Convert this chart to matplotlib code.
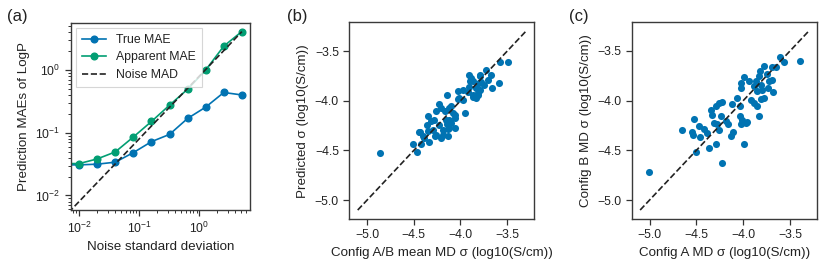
import matplotlib
matplotlib.use("Agg")
import matplotlib.pyplot as plt
import numpy as np

plt.rcParams['font.family'] = ['Liberation Sans', 'DejaVu Sans']
plt.rcParams['font.size'] = 9.6
plt.rcParams['axes.edgecolor'] = '#3a3a3a'
plt.rcParams['axes.linewidth'] = 1.0
plt.rcParams['xtick.color'] = '#333333'
plt.rcParams['ytick.color'] = '#333333'
plt.rcParams['xtick.labelcolor'] = '#222222'
plt.rcParams['ytick.labelcolor'] = '#222222'
plt.rcParams['text.color'] = '#222222'
plt.rcParams['axes.labelcolor'] = '#222222'

BLUE = '#0173b2'
GREEN = '#029e73'
LABEL_FS = 9.6
TICK_FS = 8.8

# ---- Panel (a) data ----
noise_sd = [0.0, 0.01, 0.02, 0.04, 0.08, 0.16, 0.32, 0.64, 1.28, 2.56, 5.12]
true_mae = [0.0300, 0.0307, 0.0315, 0.0339, 0.0482, 0.072, 0.094, 0.169, 0.256, 0.438, 0.400]
apparent_mae = [0.0310, 0.0322, 0.0382, 0.0494, 0.0855, 0.151, 0.275, 0.494, 1.00, 2.40, 4.11]
noise_mad = [0.0, 0.0080, 0.0160, 0.0319, 0.0638, 0.128, 0.255, 0.511, 1.02, 2.04, 4.09]

# ---- Panel (b) data ----
b_x = [-4.861, -4.468, -4.511, -4.422, -4.339, -4.439, -4.404, -4.350, -4.361, -4.350,
       -4.279, -4.297, -4.261, -4.225, -4.207, -4.182, -4.136, -4.118, -4.154, -4.100,
       -4.064, -4.171, -4.125, -4.082, -4.064, -4.232, -4.146, -4.029, -4.018, -3.975,
       -3.957, -3.968, -3.921, -3.904, -3.886, -3.861, -3.904, -3.839, -3.814, -3.796,
       -3.778, -3.796, -3.753, -3.707, -3.725, -3.671, -3.661, -3.589, -3.575, -3.493,
       -4.207, -4.261, -4.314, -4.386, -3.868, -3.832,
       -4.268, -4.189, -4.132, -4.146, -4.118, -4.061, -4.100, -4.025, -3.868, -3.814,
       -3.893, -3.786, -3.807, -4.429]
b_y = [-4.530, -4.513, -4.433, -4.433, -4.413, -4.313, -4.357, -4.307, -4.247, -4.150,
       -4.190, -4.290, -4.340, -4.240, -4.373, -4.340, -4.357, -4.273, -4.190, -4.223,
       -4.273, -4.107, -4.073, -4.123, -4.173, -4.030, -3.940, -3.900, -3.973, -3.990,
       -4.123, -3.890, -3.907, -3.857, -3.773, -3.800, -3.740, -3.967, -3.923, -3.890,
       -3.807, -3.740, -3.840, -3.790, -3.690, -3.740, -3.873, -3.823, -3.613, -3.613,
       -4.073, -4.107, -4.207, -4.373, -3.940, -3.873,
       -4.350, -4.297, -4.283, -4.230, -4.190, -4.140, -4.057, -3.983, -3.957, -3.940,
       -3.797, -3.750, -3.817, -4.310]

# ---- Panel (c) data ----
c_x = [-5.003, -4.224, -4.500, -4.367, -4.292, -3.992, -4.650, -4.546, -4.535, -4.457,
       -4.475, -4.421, -4.385, -4.528, -4.349, -4.332, -4.296, -4.260, -4.224, -4.314,
       -4.285, -4.260, -4.235, -4.189, -4.164, -4.135, -4.107, -4.117, -4.064, -4.035,
       -4.035, -4.028, -4.010, -3.974, -3.956, -4.021, -4.028, -3.992, -3.939, -3.921,
       -3.885, -3.849, -3.831, -3.849, -3.814, -3.778, -3.885, -3.867, -3.831, -3.821,
       -3.778, -3.742, -3.724, -3.688, -3.678, -3.731, -3.688, -3.653, -3.606, -3.563,
       -3.392, -3.814, -3.796]
c_y = [-4.720, -4.630, -4.517, -4.480, -4.433, -4.440, -4.293, -4.313, -4.347, -4.367,
       -4.257, -4.290, -4.323, -4.180, -4.090, -4.140, -4.057, -4.023, -4.013, -4.223,
       -4.240, -4.300, -4.157, -4.200, -4.240, -4.357, -4.313, -4.033, -3.973, -4.057,
       -4.150, -4.240, -4.190, -4.223, -4.213, -3.873, -3.823, -3.763, -3.807, -3.990,
       -4.023, -4.057, -4.157, -3.907, -3.983, -3.973, -3.857, -3.807, -3.757, -3.700,
       -3.657, -3.733, -3.807, -3.790, -3.917, -3.873, -3.660, -3.667, -3.557, -3.617,
       -3.607, -3.840, -3.890]

parity_line = [-5.1, -3.3]

W, H = 831, 269
fig = plt.figure(figsize=(W / 100, H / 100), dpi=100)

def pos(l, r, t, b):
    return [l / W, 1 - b / H, (r - l) / W, (b - t) / H]

ax1 = fig.add_axes(pos(71, 250, 23, 210))
ax2 = fig.add_axes(pos(349.3, 534.3, 22.3, 219))
ax3 = fig.add_axes(pos(631.7, 817.3, 22, 219))

# Panel (a)
ax1.set_xscale('log')
ax1.set_yscale('log')
ax1.plot(noise_sd, true_mae, '-o', color=BLUE, ms=4.8, lw=1.2, label='True MAE')
ax1.plot(noise_sd, apparent_mae, '-o', color=GREEN, ms=4.8, lw=1.2, label='Apparent MAE')
ax1.plot(noise_sd, noise_mad, '--', color='#222222', lw=1.2, label='Noise MAD')
ax1.set_xlabel('Noise standard deviation', fontsize=LABEL_FS)
ax1.set_ylabel('Prediction MAEs of LogP', fontsize=LABEL_FS)
leg = ax1.legend(loc='upper left', fontsize=TICK_FS, frameon=True, fancybox=False,
                 edgecolor='#cccccc', handlelength=2.0, borderpad=0.5,
                 labelspacing=0.45, handletextpad=0.8, borderaxespad=0.4)
leg.get_frame().set_linewidth(0.8)

for ax, xs, ys, xl, yl in [
        (ax2, b_x, b_y, 'Config A/B mean MD σ (log10(S/cm))', 'Predicted σ (log10(S/cm))'),
        (ax3, c_x, c_y, 'Config A MD σ (log10(S/cm))', 'Config B MD σ (log10(S/cm))')]:
    ax.scatter(xs, ys, s=26, color=BLUE, linewidths=0, zorder=2)
    ax.plot(parity_line, parity_line, '--', color='#222222', lw=1.2, zorder=3)
    ax.set_xticks([-5.0, -4.5, -4.0, -3.5])
    ax.set_yticks([-5.0, -4.5, -4.0, -3.5])
    ax.set_xlabel(xl, fontsize=LABEL_FS)
    ax.set_ylabel(yl, fontsize=LABEL_FS)

for ax in (ax1, ax2, ax3):
    ax.tick_params(labelsize=TICK_FS, direction='out', length=4.5, width=0.9, pad=3)
    ax.tick_params(which='minor', direction='out', length=2.5, width=0.7)

fig.text(7 / W, 1 - 17 / H, '(a)', fontsize=12, va='center', ha='left')
fig.text(287 / W, 1 - 17 / H, '(b)', fontsize=12, va='center', ha='left')
fig.text(569 / W, 1 - 17 / H, '(c)', fontsize=12, va='center', ha='left')

fig.savefig('out.png', dpi=100)
